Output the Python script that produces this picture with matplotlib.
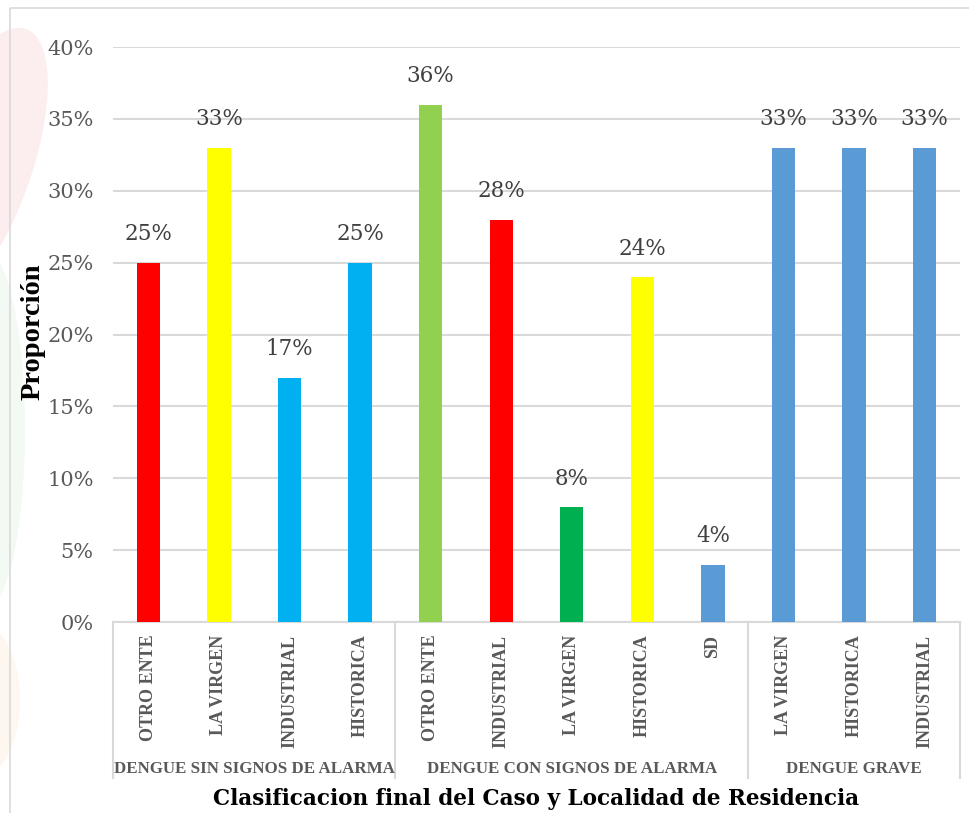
import matplotlib.pyplot as plt
from matplotlib.patches import Rectangle, Ellipse

# datos
grupos = ["DENGUE SIN SIGNOS DE ALARMA", "DENGUE CON SIGNOS DE ALARMA", "DENGUE GRAVE"]
localidades_sin = ["OTRO ENTE", "LA VIRGEN", "INDUSTRIAL", "HISTORICA"]
localidades_con = ["OTRO ENTE", "INDUSTRIAL", "LA VIRGEN", "HISTORICA", "SD"]
localidades_grave = ["LA VIRGEN", "HISTORICA", "INDUSTRIAL"]
valores_sin = [25, 33, 17, 25]
valores_con = [36, 28, 8, 24, 4]
valores_grave = [33, 33, 33]
colores_sin = ["#FF0000", "#FFFF00", "#00B0F0", "#00B0F0"]
colores_con = ["#92D050", "#FF0000", "#00B050", "#FFFF00", "#5B9BD5"]
colores_grave = ["#5B9BD5", "#5B9BD5", "#5B9BD5"]

etiquetas = localidades_sin + localidades_con + localidades_grave
valores = valores_sin + valores_con + valores_grave
colores = colores_sin + colores_con + colores_grave
tamanos = [len(localidades_sin), len(localidades_con), len(localidades_grave)]

fig = plt.figure(figsize=(9.69, 8.13), dpi=100)

# marca de agua tenue a la izquierda
fondo = fig.add_axes([0, 0, 1, 1], zorder=-5)
fondo.set_xlim(0, 969)
fondo.set_ylim(813, 0)
fondo.axis("off")
fondo.add_patch(Ellipse((-25, 170), 110, 300, angle=20, color="#FCEEEE", lw=0))
fondo.add_patch(Ellipse((-15, 430), 80, 360, color="#F3F9F3", lw=0))
fondo.add_patch(Ellipse((-25, 700), 90, 160, color="#FEF7EF", lw=0))
fondo.add_patch(Rectangle((10, 8), 1000, 830, fill=False, ec="#D9D9D9", lw=1.2))

ax = fig.add_axes([113 / 969, 1 - 622 / 813, (960 - 113) / 969, 575 / 813])
x = list(range(len(valores)))
ax.bar(x, valores, width=0.33, color=colores, zorder=3)
ax.set_xlim(-0.5, len(valores) - 0.5)
ax.set_ylim(0, 40)
ax.set_yticks(range(0, 41, 5))
ax.set_yticklabels([f"{v}%" for v in range(0, 41, 5)], fontsize=15,
                   family="DejaVu Serif", color="#595959")
ax.tick_params(axis="y", length=0, pad=14)
ax.set_xticks([])
ax.grid(axis="y", color="#D9D9D9", lw=1.5, zorder=0)
for s in ax.spines.values():
    s.set_visible(False)

for xi, v in zip(x, valores):
    ax.text(xi, v + 1.2, f"{v}%", ha="center", va="bottom", fontsize=15.5,
            family="DejaVu Serif", color="#404040")

# eje de categorias
tr = ax.get_xaxis_transform()
ax.plot([-0.5, len(valores) - 0.5], [0, 0], color="#D9D9D9", lw=1.5, transform=tr, clip_on=False)
for xi, lab in zip(x, etiquetas):
    ax.text(xi, -0.022, lab, rotation=90, ha="center", va="top", fontsize=13,
            family="Liberation Serif", weight="bold", color="#595959",
            transform=tr, clip_on=False)

inicio = 0
bordes = [-0.5]
for g, n in zip(grupos, tamanos):
    centro = inicio + (n - 1) / 2
    ax.text(centro, -0.255, g, ha="center", va="center", fontsize=12.2,
            family="Liberation Serif", weight="bold", color="#595959",
            transform=tr, clip_on=False)
    inicio += n
    bordes.append(inicio - 0.5)
for b in bordes:
    ax.plot([b, b], [0, -0.272], color="#D9D9D9", lw=1.5, transform=tr, clip_on=False)

fig.text(536 / 969, 1 - 799 / 813, "Clasificacion final del Caso y Localidad de Residencia",
         ha="center", va="center", fontsize=15.5, family="DejaVu Serif", weight="bold")
fig.text(33 / 969, 1 - 332 / 813, "Proporción", rotation=90, ha="center", va="center",
         fontsize=20.5, family="Liberation Serif", weight="bold")

fig.savefig("out.png", dpi=100)
